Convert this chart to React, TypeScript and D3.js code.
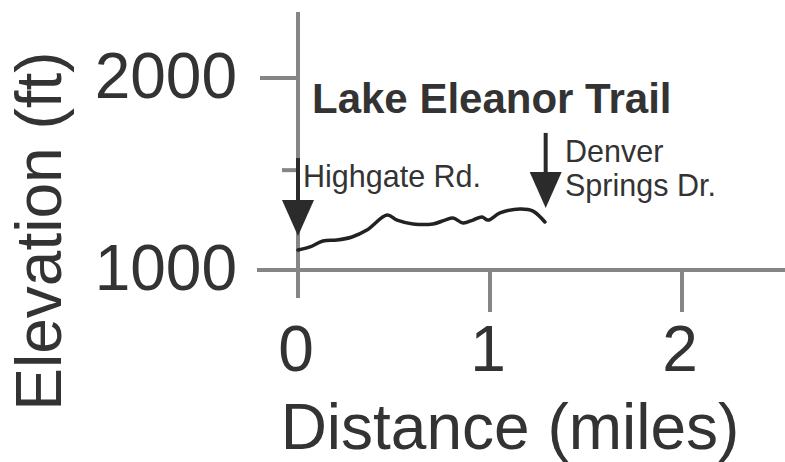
import React from 'react'
import * as d3 from 'd3'

// trail profile, distance in miles / elevation in feet
const distance = [0, 0.0625, 0.13, 0.203, 0.281, 0.359, 0.464, 0.516, 0.599, 0.703, 0.766, 0.807, 0.859, 0.911, 0.958, 0.99, 1.052, 1.156, 1.224, 1.286]
const elevation = [1104, 1120, 1151, 1156, 1172, 1208, 1286, 1260, 1240, 1240, 1260, 1271, 1245, 1260, 1276, 1260, 1297, 1318, 1307, 1250]

const xTicks = [0, 1, 2]
const xTickLabels = ['0', '1', '2']
const yTicks = [1000, 2000]
const yTickLabels = ['1000', '2000']
const yMinorTicks = [1520]

// road markers: where the arrow sits, top and tip of the arrow (ft)
const markerNames = ['Highgate Rd.', 'Denver Springs Dr.']
const markerDist = [0, 1.29]
const markerTop = [1583, 1714]
const markerTip = [1177, 1323]

const title = 'Lake Eleanor Trail'
const xTitle = 'Distance (miles)'
const yTitle = 'Elevation (ft)'

const W = 785
const H = 462
const axisColor = '#858585'
const ink = '#333333'
const font = '"Liberation Sans", Arial, sans-serif'

export default function App () {
  const x = d3.scaleLinear().domain([0, 2]).range([298, 682])
  const y = d3.scaleLinear().domain([1000, 2000]).range([270, 78])

  const line = d3.line<number>()
    .x((d, i) => x(distance[i]))
    .y((d) => y(d))
    .curve(d3.curveCatmullRom)

  // axis extents (pixels)
  const yAxisTop = 12
  const yAxisBottom = 298
  const xAxisLeft = 257
  const xAxisRight = W

  return (
    <svg width={W} height={H} style={{ position: 'absolute', left: 0, top: 0, background: '#fff' }}>
      {/* axes */}
      <g stroke={axisColor} strokeWidth={4}>
        <line x1={x(0)} x2={x(0)} y1={yAxisTop} y2={yAxisBottom} />
        <line x1={xAxisLeft} x2={xAxisRight} y1={y(1000)} y2={y(1000)} />
        {yTicks.map((t) => (
          <line key={'yt' + t} x1={x(0) - 38} x2={x(0)} y1={y(t)} y2={y(t)} />
        ))}
        {yMinorTicks.map((t) => (
          <line key={'ym' + t} x1={x(0) - 16} x2={x(0)} y1={y(t)} y2={y(t)} />
        ))}
        {xTicks.filter((t) => t !== 0).map((t) => (
          <line key={'xt' + t} x1={x(t)} x2={x(t)} y1={y(1000)} y2={y(1000) + 42} />
        ))}
      </g>

      {/* tick labels */}
      <g fill={ink} fontFamily={font} fontSize={64}>
        {yTicks.map((t, i) => (
          <text key={'yl' + t} x={237} y={y(t) + 20} textAnchor='end'>{yTickLabels[i]}</text>
        ))}
        {xTicks.map((t, i) => (
          <text key={'xl' + t} x={x(t) - 2} y={371} textAnchor='middle'>{xTickLabels[i]}</text>
        ))}
        <text x={510} y={449} textAnchor='middle'>{xTitle}</text>
        <text transform='translate(61,231) rotate(-90)' textAnchor='middle'>{yTitle}</text>
      </g>

      {/* profile */}
      <path d={line(elevation) || ''} fill='none' stroke='#222' strokeWidth={3.5} strokeLinejoin='round' strokeLinecap='round' />

      {/* road markers */}
      {markerDist.map((d, i) => {
        const cx = x(d)
        const top = y(markerTop[i])
        const tip = y(markerTip[i])
        const headLen = 36
        return (
          <g key={'m' + i} fill='#2b2b2b' stroke='none'>
            <rect x={cx - 2} y={top} width={4} height={tip - top - headLen + 2} />
            <polygon points={`${cx - 16},${tip - headLen} ${cx + 16},${tip - headLen} ${cx},${tip}`} />
          </g>
        )
      })}

      {/* annotations */}
      <g fill={ink} fontFamily={font}>
        <text x={312} y={113} fontSize={42} fontWeight='bold'>{title}</text>
        <text x={303} y={187} fontSize={30.5}>{markerNames[0]}</text>
        <text x={565} y={162} fontSize={30.5}>Denver</text>
        <text x={565} y={196} fontSize={30.5}>Springs Dr.</text>
      </g>
    </svg>
  )
}
